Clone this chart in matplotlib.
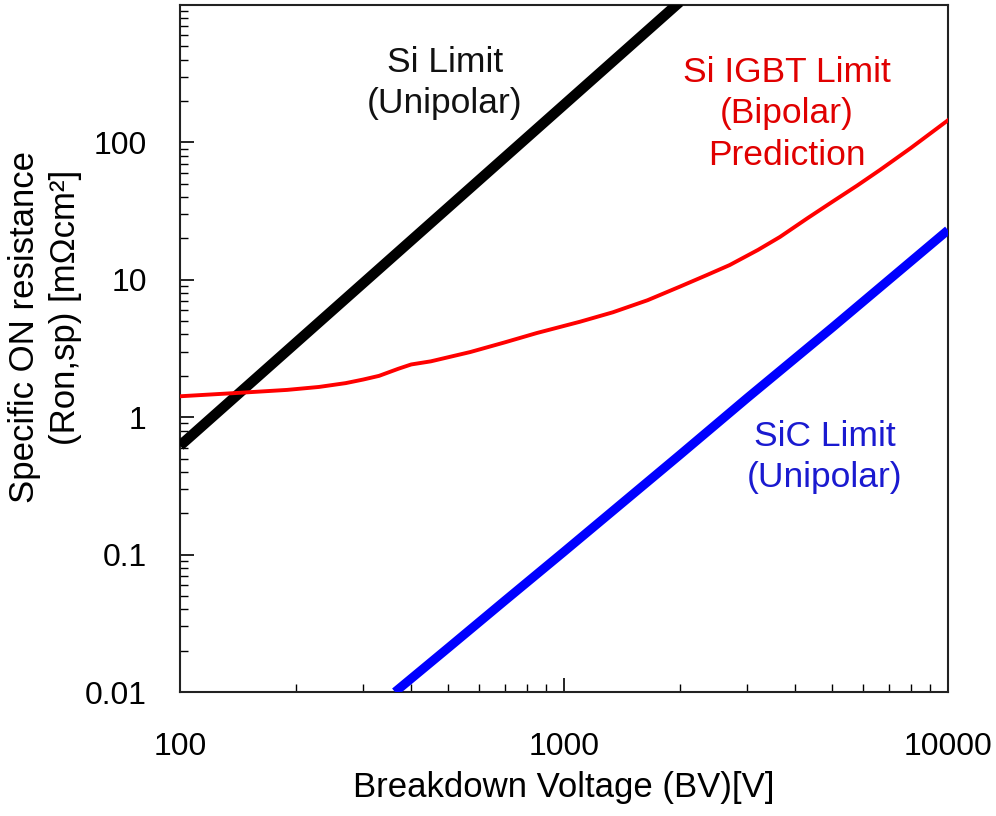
import matplotlib
matplotlib.use("Agg")
import matplotlib.pyplot as plt

# Breakdown voltage [V] and specific on-resistance [mOhm cm^2] for each limit
si_bv = [100, 2000]
si_ron = [0.62, 1050]

sic_bv = [363, 500, 700, 1000, 2000, 3000, 5000, 10000]
sic_ron = [0.01, 0.021, 0.046, 0.105, 0.53, 1.38, 4.5, 23]

igbt_bv = [100, 140, 190, 230, 270, 300, 330, 370, 400, 450, 570, 700, 850,
           1100, 1340, 1650, 2000, 2350, 2700, 3200, 3650, 4300, 5000, 5800,
           6650, 8000, 10000]
igbt_ron = [1.42, 1.5, 1.58, 1.66, 1.77, 1.88, 2.0, 2.25, 2.42, 2.55, 2.98,
            3.5, 4.1, 4.95, 5.8, 7.1, 8.9, 10.8, 12.8, 16.5, 20.5, 28.0, 37.0,
            48.5, 63.0, 91.0, 145.0]

x_ticks = [100, 1000, 10000]
x_tick_labels = ["100", "1000", "10000"]
y_ticks = [0.01, 0.1, 1, 10, 100]
y_tick_labels = ["0.01", "0.1", "1", "10", "100"]

font = ["Liberation Sans", "DejaVu Sans"]

fig = plt.figure(figsize=(9.96, 8.16), dpi=100)
ax = fig.add_axes([180 / 996, 124 / 816, 768 / 996, 687 / 816])

ax.plot(si_bv, si_ron, color="black", lw=7.5, solid_capstyle="butt", zorder=3)
ax.plot(igbt_bv, igbt_ron, color="#ff0000", lw=2.8, zorder=4)
ax.plot(sic_bv, sic_ron, color="#0000ff", lw=6.5, solid_capstyle="butt", zorder=3)

ax.set_xscale("log")
ax.set_yscale("log")
ax.set_xlim(100, 10000)
ax.set_ylim(0.01, 1000)

ax.set_xticks(x_ticks)
ax.set_xticklabels(x_tick_labels, fontfamily=font, fontsize=23)
ax.set_yticks(y_ticks)
ax.set_yticklabels(y_tick_labels, fontfamily=font, fontsize=23)

ax.tick_params(which="both", direction="in", top=False, right=False)
ax.tick_params(axis="x", which="major", length=10, width=1.2, pad=29)
ax.tick_params(axis="y", which="major", length=10, width=1.2, pad=24)
ax.tick_params(which="minor", length=6, width=1.0)

for spine in ax.spines.values():
    spine.set_linewidth(1.5)
    spine.set_color("#222222")

ax.set_xlabel("Breakdown Voltage (BV)[V]", fontfamily=font, fontsize=25,
              labelpad=6)

# two-line y label, drawn as separate rotated texts
fig.text(25 / 996, 1 - 327 / 816, "Specific ON resistance", rotation=90,
         ha="center", va="center", fontfamily=font, fontsize=25)
fig.text(65 / 996, 1 - 307 / 816, "(Ron,sp) [mΩcm²]", rotation=90,
         ha="center", va="center", fontfamily=font, fontsize=25)

# curve annotations
ann = dict(ha="center", va="center", fontfamily=font, fontsize=25.5,
           linespacing=1.34)
fig.text(445 / 996, 1 - 83 / 816, "Si Limit\n(Unipolar)", color="#111111", **ann)
fig.text(787 / 996, 1 - 114 / 816, "Si IGBT Limit\n(Bipolar)\nPrediction",
         color="#e00000", **ann)
fig.text(825 / 996, 1 - 457 / 816, "SiC Limit\n(Unipolar)", color="#1a1ad0",
         **ann)

fig.savefig("out.png", dpi=100)
